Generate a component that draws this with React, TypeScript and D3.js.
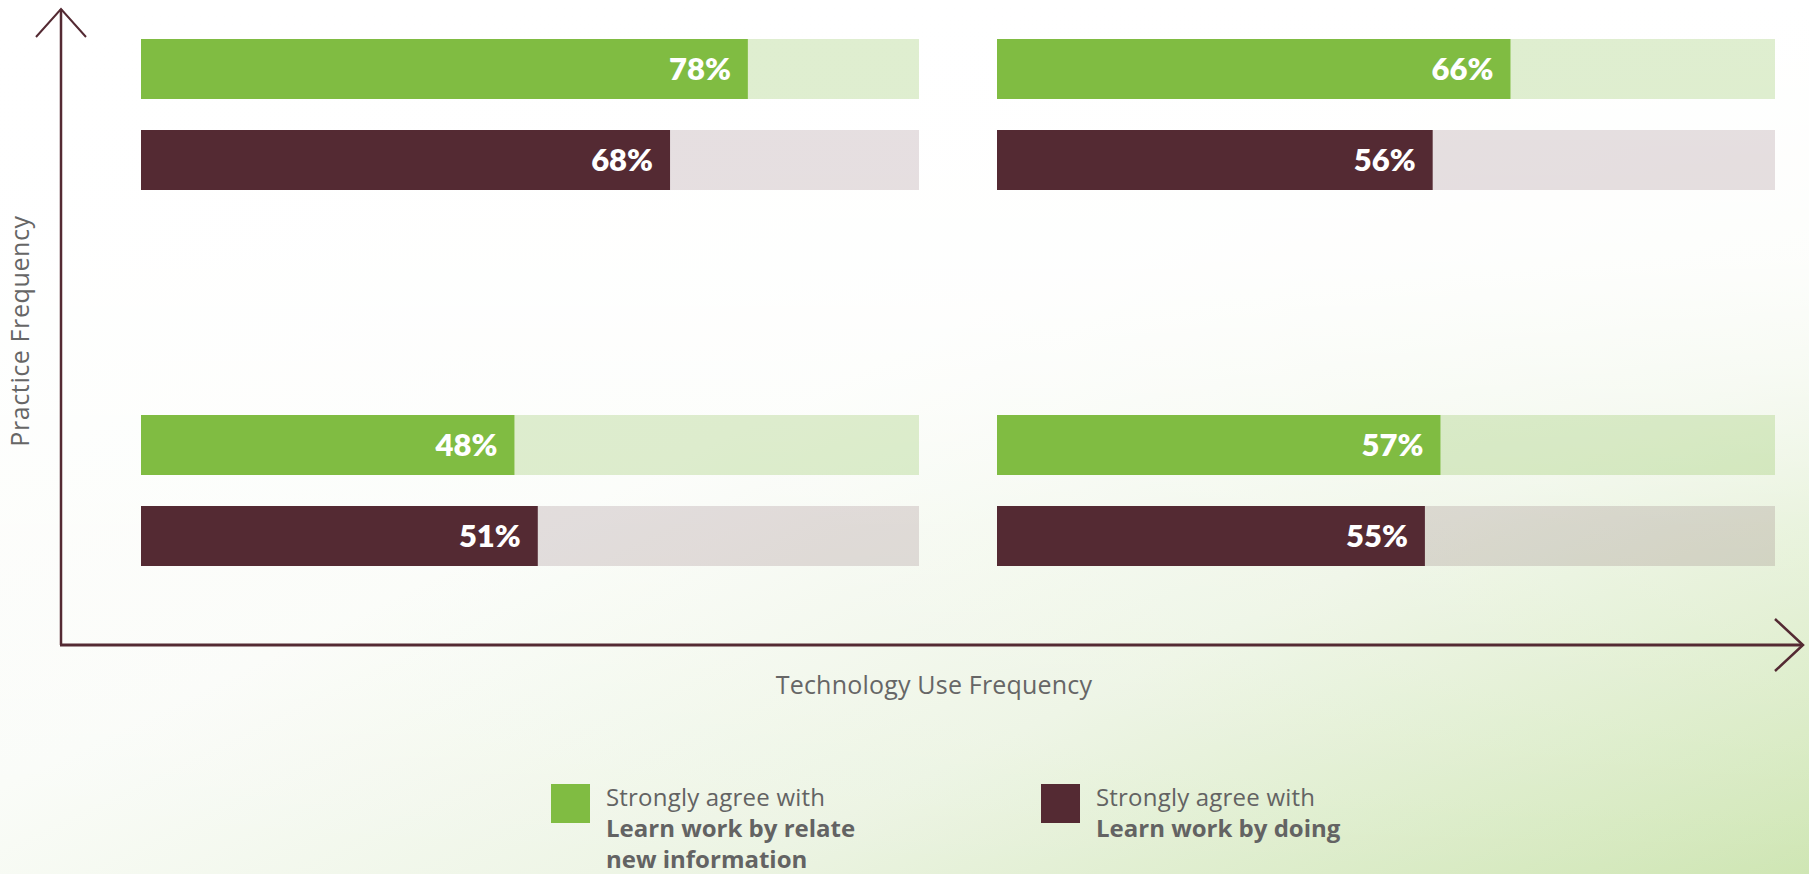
import React from "react";
import * as d3 from "d3";

// ---- data ----
const techLevels = ["Low", "High"]; // x-direction (Technology Use Frequency)
const practiceLevels = ["High", "Low"]; // y-direction (Practice Frequency), top to bottom
const seriesKeys = ["relate", "doing"];
const seriesNames = ["Learn work by relate new information", "Learn work by doing"];
// values per quadrant, order: [practice][tech]
const relateValues = [
  [78, 66],
  [48, 57],
];
const doingValues = [
  [68, 56],
  [51, 55],
];
const legendLine1 = "Strongly agree with";
const legendRelateLines = ["Learn work by relate", "new information"];
const legendDoingLines = ["Learn work by doing"];
const xTitle = "Technology Use Frequency";
const yTitle = "Practice Frequency";

const W = 1809;
const H = 874;
const GREEN = "#80bc42";
const MAROON = "#542a33";
const FONT = "Lato, 'Open Sans', sans-serif";
const FONT2 = "'Open Sans', Lato, sans-serif";

export default function App() {
  const colScale = d3
    .scaleBand<string>()
    .domain(techLevels)
    .range([141, 1775])
    .paddingInner(78 / 856)
    .paddingOuter(0);
  const rowScale = d3
    .scaleBand<string>()
    .domain(practiceLevels)
    .range([39, 566])
    .paddingInner(225 / 376)
    .paddingOuter(0);
  const seriesScale = d3
    .scaleBand<string>()
    .domain(seriesKeys)
    .range([0, rowScale.bandwidth()])
    .paddingInner(31 / 91)
    .paddingOuter(0);
  const valueScale = d3.scaleLinear().domain([0, 100]).range([0, colScale.bandwidth()]);

  const colors: Record<string, string> = { relate: GREEN, doing: MAROON };
  const trackOpacity: Record<string, number> = { relate: 0.25, doing: 0.15 };
  const dataBySeries: Record<string, number[][]> = { relate: relateValues, doing: doingValues };

  const bars: React.ReactNode[] = [];
  practiceLevels.forEach((p, pi) => {
    techLevels.forEach((t, ti) => {
      seriesKeys.forEach((s) => {
        const v = dataBySeries[s][pi][ti];
        const x0 = colScale(t)!;
        const y0 = rowScale(p)! + seriesScale(s)!;
        const bh = seriesScale.bandwidth();
        const bw = valueScale(v);
        bars.push(
          <g key={`${p}-${t}-${s}`}>
            <rect x={x0} y={y0} width={colScale.bandwidth()} height={bh} fill={colors[s]} opacity={trackOpacity[s]} />
            <rect x={x0} y={y0} width={bw} height={bh} fill={colors[s]} />
            <text
              x={x0 + bw - 17}
              y={y0 + bh / 2 + 11}
              textAnchor="end"
              fill="#fff"
              fontFamily={FONT}
              fontWeight={800}
              fontSize={31}
            >
              {`${v}%`}
            </text>
          </g>
        );
      });
    });
  });

  const axisColor = MAROON;
  const ox = 61;
  const oy = 645;

  return (
    <div style={{ position: "absolute", left: 0, top: 0, width: W, height: H }}>
      <svg width={W} height={H} viewBox={`0 0 ${W} ${H}`} style={{ display: "block" }}>
        <defs>
          <linearGradient id="bg" x1="0" y1="0" x2="1" y2="1">
            <stop offset="0" stopColor="#ffffff" />
            <stop offset="0.45" stopColor="#fafcf8" />
            <stop offset="0.7" stopColor="#ecf4e3" />
            <stop offset="1" stopColor="#cfe6b4" />
          </linearGradient>
          <linearGradient id="bgv" x1="0" y1="0" x2="0" y2="1">
            <stop offset="0" stopColor="#ffffff" stopOpacity={1} />
            <stop offset="0.3" stopColor="#ffffff" stopOpacity={0.85} />
            <stop offset="0.6" stopColor="#ffffff" stopOpacity={0.25} />
            <stop offset="1" stopColor="#ffffff" stopOpacity={0} />
          </linearGradient>
        </defs>
        <rect x={0} y={0} width={W} height={H} fill="url(#bg)" />
        <rect x={0} y={0} width={W} height={H} fill="url(#bgv)" />

        {bars}

        {/* axes */}
        <g stroke={axisColor} fill="none" strokeWidth={2.5}>
          <line x1={ox} y1={oy} x2={ox} y2={9} />
          <polyline points={`${ox - 25},37 ${ox},9 ${ox + 25},37`} strokeWidth={2} />
          <line x1={ox - 1} y1={oy} x2={1803} y2={oy} strokeWidth={3} />
          <polyline points={`1775,619 1803,645 1775,671`} strokeWidth={2.5} />
        </g>

        <text
          transform={`translate(29, 331) rotate(-90)`}
          textAnchor="middle"
          fill="#666"
          fontFamily={FONT2}
          fontSize={25}
          letterSpacing={0.6}
        >
          {yTitle}
        </text>
        <text x={934} y={694} textAnchor="middle" fill="#666" fontFamily={FONT2} fontSize={25} letterSpacing={0.2}>
          {xTitle}
        </text>

        {/* legend */}
        {[
          { key: "relate", x: 551, lines: legendRelateLines, name: seriesNames[0] },
          { key: "doing", x: 1041, lines: legendDoingLines, name: seriesNames[1] },
        ].map((l) => (
          <g key={l.key}>
            <rect x={l.x} y={784} width={39} height={39} fill={colors[l.key]} />
            <text x={l.x + 55} y={806} fill="#636363" fontFamily={FONT2} fontSize={24} letterSpacing={0.2}>
              {legendLine1}
            </text>
            {l.lines.map((ln, i) => (
              <text
                key={i}
                x={l.x + 55}
                y={837 + i * 31}
                fill="#636363"
                fontFamily={FONT2}
                fontSize={24}
                fontWeight={700}
              >
                {ln}
              </text>
            ))}
          </g>
        ))}
      </svg>
    </div>
  );
}
